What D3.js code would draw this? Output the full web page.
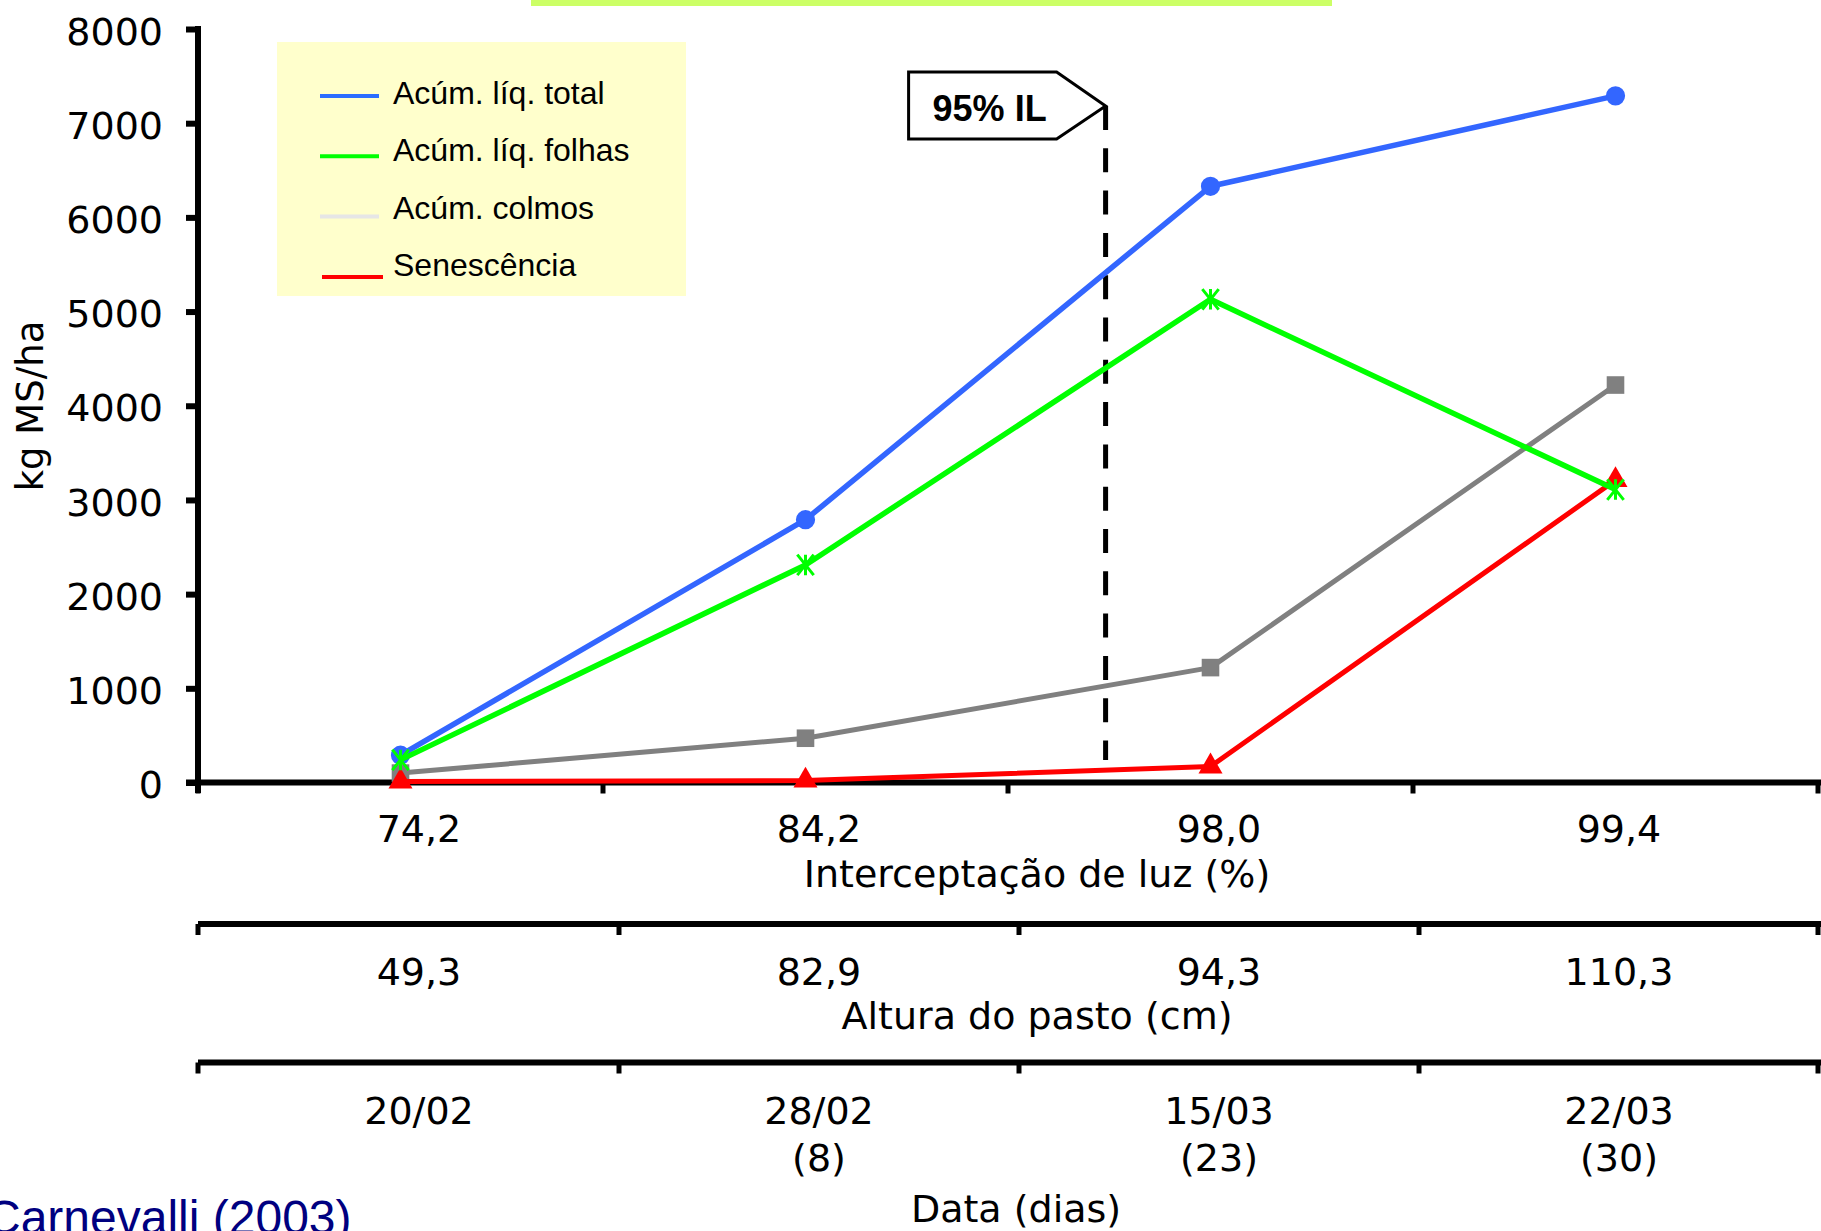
<!DOCTYPE html>
<html>
<head>
<meta charset="utf-8">
<script src="https://cdn.jsdelivr.net/npm/d3@7"></script>
<style>
  body { margin: 0; background: #fff; }
  svg { display: block; }
</style>
</head>
<body>
<div id="chart"></div>
<script>
// data
const categories = ["74,2", "84,2", "98,0", "99,4"];
const heightLabels = ["49,3", "82,9", "94,3", "110,3"];
const dateLabels = ["20/02", "28/02", "15/03", "22/03"];
const dayLabels = ["", "(8)", "(23)", "(30)"];

const acumTotal = [290, 2790, 6330, 7290];
const acumFolhas = [240, 2310, 5130, 3110];
const acumColmos = [100, 470, 1220, 4220];
const senescencia = [10, 20, 170, 3210];

const yTickValues = [0, 1000, 2000, 3000, 4000, 5000, 6000, 7000, 8000];

const W = 1821, H = 1231;
const verdana = "'DejaVu Sans', Verdana, sans-serif";
const arial = "'Liberation Sans', Arial, sans-serif";

const svg = d3.select("#chart")
    .append("svg")
    .attr("width", W)
    .attr("height", H);

// plot scale
const x = d3.scaleBand()
    .domain(categories)
    .range([198, 1818]);

// the label rows sit on a slightly narrower grid
const xl = d3.scaleBand()
    .domain(categories)
    .range([219, 1819]);

const y = d3.scaleLinear()
    .domain([0, 8000])
    .range([782.5, 29]);

const cx = c => x(c) + x.bandwidth() / 2;
const lx = c => xl(c) + xl.bandwidth() / 2;

// green strip at the top
svg.append("rect")
    .attr("x", 531).attr("y", 0)
    .attr("width", 801).attr("height", 6)
    .attr("fill", "#ccff66");

// Y axis
const yAxis = svg.append("g")
    .attr("transform", "translate(198,0)")
    .call(d3.axisLeft(y).tickValues(yTickValues).tickSize(12).tickSizeOuter(0).tickFormat(d3.format("d")));
yAxis.select(".domain").remove();
yAxis.selectAll(".tick line")
    .attr("stroke", "#000")
    .attr("stroke-width", 6);
yAxis.selectAll(".tick text")
    .attr("x", -35)
    .attr("dy", "0.4em")
    .style("font-family", verdana)
    .style("font-size", "38px")
    .attr("fill", "#000");

svg.append("line")
    .attr("x1", 198).attr("x2", 198)
    .attr("y1", y(8000) - 3).attr("y2", 793)
    .attr("stroke", "#000")
    .attr("stroke-width", 6);

svg.append("text")
    .attr("transform", "translate(43,406) rotate(-90)")
    .attr("text-anchor", "middle")
    .style("font-family", verdana)
    .style("font-size", "37px")
    .text("kg MS/ha");

// three x axis rows
const plotBounds = categories.map(c => x(c)).concat([x.range()[1]]);
const rowBounds = [198].concat(categories.slice(1).map(c => xl(c)), [x.range()[1]]);
const rows = [
    { y: 782.5, x0: 186, bounds: plotBounds, labels: categories, labelY: 842, title: "Interceptação de luz (%)", titleX: 1037, titleY: 887 },
    { y: 924, x0: 198, bounds: rowBounds, labels: heightLabels, labelY: 985, title: "Altura do pasto (cm)", titleX: 1037, titleY: 1029 },
    { y: 1062.5, x0: 198, bounds: rowBounds, labels: dateLabels, labelY: 1124, title: "Data (dias)", titleX: 1016, titleY: 1222 }
];

rows.forEach(r => {
    const g = svg.append("g");
    g.append("line")
        .attr("x1", r.x0).attr("x2", W)
        .attr("y1", r.y).attr("y2", r.y)
        .attr("stroke", "#000")
        .attr("stroke-width", 6);
    g.selectAll(".tk")
        .data(r.bounds)
        .enter().append("line")
        .attr("x1", d => d).attr("x2", d => d)
        .attr("y1", r.y).attr("y2", r.y + 11)
        .attr("stroke", "#000")
        .attr("stroke-width", 5);
    g.selectAll(".lbl")
        .data(categories)
        .enter().append("text")
        .attr("x", d => lx(d))
        .attr("y", r.labelY)
        .attr("text-anchor", "middle")
        .style("font-family", verdana)
        .style("font-size", "38px")
        .text((d, i) => r.labels[i]);
    g.append("text")
        .attr("x", r.titleX)
        .attr("y", r.titleY)
        .attr("text-anchor", "middle")
        .style("font-family", verdana)
        .style("font-size", "38px")
        .text(r.title);
});

// day counts under the dates
svg.selectAll(".days")
    .data(categories)
    .enter().append("text")
    .attr("x", d => lx(d))
    .attr("y", 1171)
    .attr("text-anchor", "middle")
    .style("font-family", verdana)
    .style("font-size", "38px")
    .text((d, i) => dayLabels[i]);

// 95% IL marker
const ilX = cx(categories[1]) + 0.741 * x.bandwidth();
svg.append("line")
    .attr("x1", ilX).attr("x2", ilX)
    .attr("y1", 106).attr("y2", 760)
    .attr("stroke", "#000")
    .attr("stroke-width", 5)
    .attr("stroke-dasharray", "24,18.3");

svg.append("path")
    .attr("d", `M${ilX - 197},72 H${ilX - 49} L${ilX},106 L${ilX - 49},139 H${ilX - 197} Z`)
    .attr("fill", "#fff")
    .attr("stroke", "#000")
    .attr("stroke-width", 3);

svg.append("text")
    .attr("x", ilX - 116)
    .attr("y", 121)
    .attr("text-anchor", "middle")
    .style("font-family", arial)
    .style("font-weight", "bold")
    .style("font-size", "36px")
    .text("95% IL");

// asterisk marker used by the leaf series
const asterisk = {
    draw(context, size) {
        const r = Math.sqrt(size) / 2;
        const d = r * 0.8;
        context.moveTo(-d, -r); context.lineTo(d, r);
        context.moveTo(d, -r); context.lineTo(-d, r);
        context.moveTo(0, -r); context.lineTo(0, r);
    }
};

const series = [
    { name: "Acúm. líq. total", values: acumTotal, color: "#3366ff", width: 5.5, symbol: d3.symbolCircle, size: 290, legend: "#2b6dff" },
    { name: "Acúm. colmos", values: acumColmos, color: "#808080", width: 5, symbol: d3.symbolSquare, size: 310, legend: "#e6e6e6" },
    { name: "Senescência", values: senescencia, color: "#ff0000", width: 5, symbol: d3.symbolTriangle, size: 250, legend: "#ff0000" },
    { name: "Acúm. líq. folhas", values: acumFolhas, color: "#00ff00", width: 5.5, symbol: asterisk, size: 420, legend: "#00ff00", stroke: true }
];

const line = d3.line()
    .x(d => cx(d.cat))
    .y(d => y(d.v));

series.forEach(s => {
    const pts = categories.map((c, i) => ({ cat: c, v: s.values[i] }));
    svg.append("path")
        .datum(pts)
        .attr("fill", "none")
        .attr("stroke", s.color)
        .attr("stroke-width", s.width)
        .attr("stroke-linejoin", "round")
        .attr("d", line);
    svg.selectAll(null)
        .data(pts)
        .enter().append("path")
        .attr("transform", d => `translate(${cx(d.cat)},${y(d.v)})`)
        .attr("d", d3.symbol().type(s.symbol).size(s.size))
        .attr("fill", s.stroke ? "none" : s.color)
        .attr("stroke", s.stroke ? s.color : "none")
        .attr("stroke-width", 3);
});

// legend
const legendOrder = ["Acúm. líq. total", "Acúm. líq. folhas", "Acúm. colmos", "Senescência"];
svg.append("rect")
    .attr("x", 277).attr("y", 42)
    .attr("width", 409).attr("height", 254)
    .attr("fill", "#ffffcc");

const leg = svg.selectAll(".legend")
    .data(legendOrder.map(n => series.find(s => s.name === n)))
    .enter().append("g")
    .attr("class", "legend");
leg.append("line")
    .attr("x1", (d, i) => i === 3 ? 322 : 320)
    .attr("x2", (d, i) => i === 3 ? 383 : 379)
    .attr("y1", (d, i) => 96 + i * 60.3)
    .attr("y2", (d, i) => 96 + i * 60.3)
    .attr("stroke", d => d.legend)
    .attr("stroke-width", 4);
leg.append("text")
    .attr("x", 393)
    .attr("y", (d, i) => 104 + i * 57.4)
    .style("font-family", arial)
    .style("font-size", "32px")
    .text(d => d.name);

// source, cut by the page edge as in the original
svg.append("text")
    .attr("x", -14)
    .attr("y", 1234)
    .style("font-family", arial)
    .style("font-size", "48px")
    .attr("fill", "#000080")
    .text("Carnevalli (2003)");
</script>
</body>
</html>
